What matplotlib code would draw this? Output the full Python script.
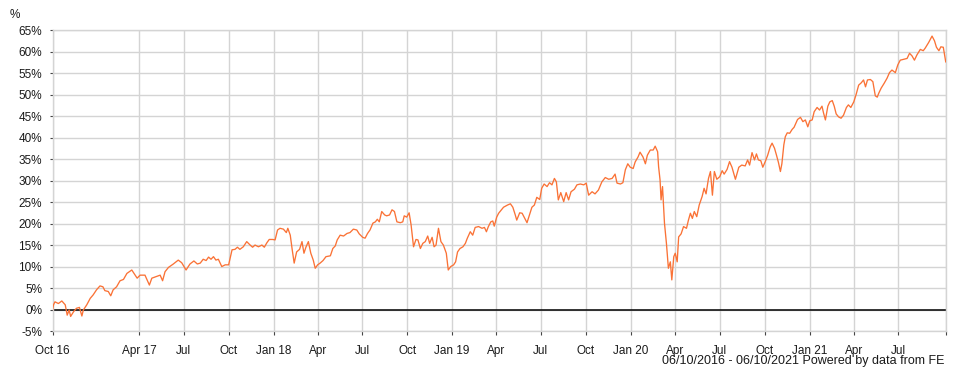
import matplotlib
matplotlib.use("Agg")
import matplotlib.pyplot as plt
import numpy as np

plt.rcParams['font.family'] = ['Liberation Sans', 'DejaVu Sans']

# cumulative growth, % since 06/10/2016 (day offsets from start date)
start = np.datetime64("2016-10-06")
end = np.datetime64("2021-10-06")

days_2016_17 = [0, 2, 5, 12, 19, 26, 30, 34, 37, 43, 49, 55, 60, 63, 70, 77, 83, 90, 97, 103,
                107, 114, 119, 124, 131, 138, 145, 152, 162, 169, 173, 179, 189, 198, 203, 213,
                220, 225, 230, 237, 247, 257, 264, 273, 281, 289, 296]
pct_2016_17 = [0, 1.2, 1.9, 1.5, 2.1, 1.2, -1.2, 0, -1.5, -0.4, 0.4, 0.6, -1.4, 0, 1.2, 2.7, 3.5,
               4.7, 5.6, 5.4, 4.5, 4.3, 3.3, 4.7, 5.4, 6.8, 7.1, 8.5, 9.3, 8.1, 7.4, 8.1, 8.1, 5.8,
               7.4, 7.8, 8.1, 6.8, 8.9, 9.9, 10.7, 11.6, 11.0, 9.3, 10.7, 11.4, 10.7]

days_2017_18 = [302, 308, 314, 319, 324, 329, 334, 339, 346, 353, 360, 367, 373, 378, 383, 390,
                397, 404, 409, 414, 421, 428, 433, 438, 443, 450, 455, 460, 465, 472, 478, 481,
                486, 490, 494, 499, 505, 510, 514, 518, 523, 528, 533, 537, 542, 547, 553, 559,
                568, 573, 578, 582, 588, 595, 602]
pct_2017_18 = [10.9, 11.8, 11.5, 12.3, 11.8, 12.4, 11.6, 11.8, 10.1, 10.5, 10.5, 14.0, 14.1, 14.6,
               14.1, 14.7, 15.9, 15.1, 14.6, 15.1, 14.7, 15.1, 14.6, 15.6, 16.4, 16.4, 16.3, 18.6,
               19.0, 18.8, 18.0, 19.0, 17.4, 14.0, 10.9, 13.5, 14.1, 15.9, 13.2, 14.6, 15.9, 13.2,
               11.6, 9.7, 10.5, 10.9, 11.5, 12.4, 12.6, 14.3, 14.9, 16.3, 17.4, 17.2, 17.8]

days_2018_19 = [608, 615, 622, 627, 634, 639, 644, 649, 655, 660, 664, 668, 673, 679, 683, 689,
                694, 699, 704, 711, 716, 719, 724, 729, 733, 738, 743, 747, 752, 757, 762, 767,
                771, 776, 780, 784, 789, 794, 799, 805, 809, 814, 820, 824, 828, 833, 839, 844,
                848, 854, 859, 864, 871, 878, 883, 887, 891, 896, 900, 903, 908, 912]
pct_2018_19 = [18.0, 18.8, 18.6, 17.7, 16.9, 16.7, 17.8, 18.6, 20.2, 20.5, 21.1, 20.5, 22.9, 22.1,
               21.9, 22.1, 23.3, 22.9, 20.5, 20.3, 20.5, 21.9, 21.6, 22.6, 19.8, 14.7, 16.4, 16.3,
               14.3, 15.5, 15.9, 17.2, 15.5, 16.9, 14.7, 15.1, 19.0, 15.9, 15.1, 13.2, 9.3, 10.1,
               10.5, 11.2, 13.5, 14.3, 14.7, 15.5, 16.7, 18.2, 17.4, 19.2, 19.4, 19.0, 19.2, 18.2,
               19.4, 20.5, 20.7, 19.5, 21.6, 22.5]

days_2019_20 = [922, 930, 936, 941, 946, 949, 955, 960, 964, 970, 975, 980, 985, 990, 996, 1000,
                1005, 1011, 1016, 1021, 1026, 1030, 1034, 1039, 1045, 1050, 1055, 1060, 1067,
                1072, 1079, 1086, 1091, 1096, 1103, 1109, 1116, 1123, 1130, 1137, 1144, 1150,
                1154, 1161, 1166, 1171, 1176, 1181, 1187, 1191, 1197, 1201, 1207, 1212, 1216,
                1222, 1228, 1232]
pct_2019_20 = [23.9, 24.4, 24.7, 23.9, 22.1, 20.9, 22.6, 22.5, 21.6, 20.3, 22.1, 23.9, 24.4, 26.2,
               25.7, 28.3, 29.3, 28.7, 29.6, 29.1, 30.6, 29.8, 25.6, 27.3, 25.2, 27.3, 25.6, 27.5,
               28.1, 29.1, 29.3, 29.1, 29.5, 26.7, 27.5, 27.0, 27.9, 29.8, 30.8, 30.4, 30.6, 31.6,
               29.5, 29.3, 29.6, 32.6, 34.0, 33.2, 32.9, 34.4, 35.6, 36.7, 35.6, 34.0, 36.0, 37.2,
               37.2, 38.1]

days_2020_21 = [1237, 1239, 1242, 1244, 1247, 1251, 1255, 1259, 1263, 1266, 1270, 1273, 1277, 1280,
                1285, 1290, 1296, 1300, 1304, 1308, 1312, 1317, 1322, 1328, 1332, 1336, 1341, 1345,
                1349, 1353, 1358, 1364, 1369, 1373, 1379, 1384, 1389, 1396, 1403, 1409, 1416, 1421,
                1425, 1430, 1435, 1439, 1443, 1448, 1452, 1457, 1462, 1467, 1471, 1476, 1480, 1484,
                1488, 1491, 1495, 1498, 1502, 1507, 1512, 1516]
pct_2020_21 = [36.8, 33.3, 30.2, 25.6, 28.7, 20.2, 15.5, 9.7, 11.2, 7.0, 12.4, 13.2, 11.2, 17.0,
               17.7, 19.4, 19.0, 20.9, 22.5, 21.3, 22.9, 21.7, 24.4, 26.4, 28.3, 27.0, 30.6, 32.2,
               26.7, 32.2, 30.4, 31.0, 32.4, 31.6, 32.7, 34.5, 33.2, 30.4, 33.2, 33.7, 33.5, 34.9,
               33.7, 36.6, 34.9, 36.3, 34.9, 34.7, 33.2, 34.5, 36.0, 37.9, 38.8, 37.6, 36.0, 34.3,
               32.2, 34.0, 38.4, 40.3, 41.2, 41.1, 42.0, 42.5]

days_2021 = [1523, 1529, 1534, 1539, 1544, 1548, 1553, 1557, 1563, 1568, 1573, 1576, 1580, 1585,
             1589, 1594, 1598, 1602, 1607, 1612, 1617, 1623, 1627, 1632, 1638, 1643, 1648, 1653,
             1658, 1662, 1666, 1672, 1677, 1682, 1686, 1689, 1694, 1700, 1706, 1711, 1716, 1723,
             1728, 1733, 1740, 1747, 1752, 1757, 1762, 1767, 1774, 1780, 1784, 1791, 1798, 1803,
             1807, 1812, 1816, 1821, 1823, 1826]
pct_2021 = [44.3, 44.8, 43.8, 44.2, 42.6, 44.0, 44.2, 46.1, 47.1, 46.5, 47.4, 45.9, 44.2, 47.4,
            48.4, 48.7, 47.4, 45.6, 44.9, 44.6, 45.3, 47.1, 47.7, 47.1, 48.4, 50.2, 52.3, 52.8,
            53.5, 51.9, 53.5, 53.6, 53.1, 49.8, 49.5, 50.4, 51.6, 52.7, 53.9, 55.2, 55.8, 55.2,
            57.0, 58.1, 58.3, 58.5, 59.7, 59.1, 58.1, 59.3, 60.6, 60.3, 60.9, 62.2, 63.7, 62.6,
            61.1, 60.3, 61.2, 61.1, 59.7, 57.7]

tick_dates = ["2016-10-06", "2017-04-01", "2017-07-01", "2017-10-01", "2018-01-01", "2018-04-01",
              "2018-07-01", "2018-10-01", "2019-01-01", "2019-04-01", "2019-07-01", "2019-10-01",
              "2020-01-01", "2020-04-01", "2020-07-01", "2020-10-01", "2021-01-01", "2021-04-01",
              "2021-07-01", "2021-10-06"]
tick_labels = ["Oct 16", "Apr 17", "Jul", "Oct", "Jan 18", "Apr", "Jul", "Oct", "Jan 19", "Apr",
               "Jul", "Oct", "Jan 20", "Apr", "Jul", "Oct", "Jan 21", "Apr", "Jul", ""]
y_ticks = list(range(-5, 70, 5))

days = days_2016_17 + days_2017_18 + days_2018_19 + days_2019_20 + days_2020_21 + days_2021
pct = pct_2016_17 + pct_2017_18 + pct_2018_19 + pct_2019_20 + pct_2020_21 + pct_2021
dates = start + np.array(days).astype("timedelta64[D]")

grid_col = "#d4d4d4"
text_col = "#1a1a1a"

fig = plt.figure(figsize=(9.62, 3.85), dpi=100)
ax = fig.add_axes([0.0546, 0.139, 0.9285, 0.7818])

ax.plot(dates, pct, color="#fa7236", lw=0.95, zorder=3)
ax.axhline(0, color="black", lw=1.1, zorder=2)

ax.set_xlim(start, end)
ax.set_ylim(-5, 65)
ax.set_xticks(np.array(tick_dates, dtype="datetime64[D]"))
ax.set_xticklabels(tick_labels)
ax.set_yticks(y_ticks)
ax.set_yticklabels([f"{v}%" for v in y_ticks])

ax.grid(True, color=grid_col, lw=1.0, zorder=0)
ax.set_axisbelow(True)
for s in ax.spines.values():
    s.set_color(grid_col)
    s.set_linewidth(1.0)

ax.tick_params(axis="y", length=2.5, width=0.8, color="#444444", pad=5, labelsize=8.5,
               labelcolor=text_col)
ax.tick_params(axis="x", length=3, width=0.8, color="#444444", pad=6.5, labelsize=8.5,
               labelcolor=text_col)

fig.text(15 / 962, 1 - 15 / 385, "%", ha="center", va="center", fontsize=8.5, color=text_col)
fig.text(944 / 962, 1 - 364 / 385, "06/10/2016 - 06/10/2021 Powered by data from FE",
         ha="right", va="baseline", fontsize=9, color=text_col)

fig.savefig("out.png", dpi=100)
